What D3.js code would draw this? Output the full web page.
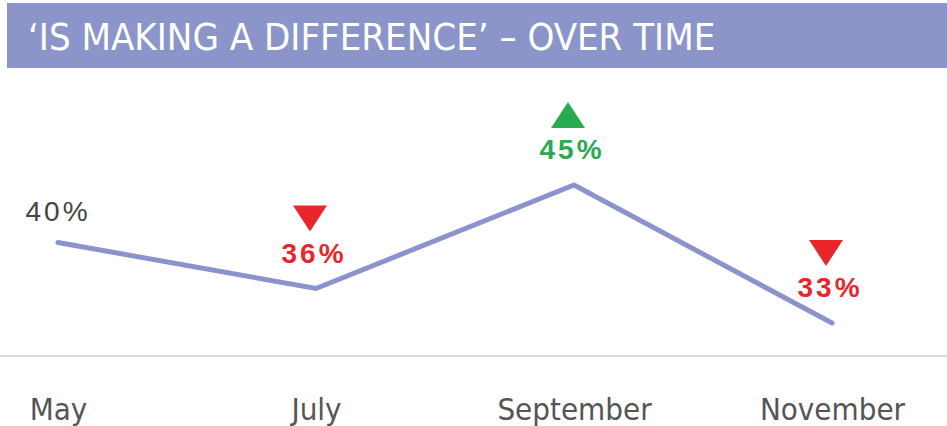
<!DOCTYPE html>
<html>
<head>
<meta charset="utf-8">
<script src="https://cdn.jsdelivr.net/npm/d3@7"></script>
<style>
  body { margin: 0; background: #fff; }
  svg { display: block; }
</style>
</head>
<body>
<script>
const title = "\u2018IS MAKING A DIFFERENCE\u2019 \u2013 OVER TIME";
const months = ["May", "July", "September", "November"];
const values = [40, 36, 45, 33];
const trend = ["none", "down", "up", "down"];

const width = 947, height = 426;
const condensed = "'Liberation Sans Narrow', 'DejaVu Sans Condensed', 'Roboto', sans-serif";
const lineColor = "#8a93cb";
const trendColor = {none: "#444", down: "#e8262b", up: "#2aaa4f"};

const svg = d3.select("body").append("svg")
    .attr("width", width)
    .attr("height", height);

// header
svg.append("rect")
    .attr("x", 7).attr("y", 3)
    .attr("width", width - 7).attr("height", 65)
    .attr("fill", "#8c95c9");

svg.append("text")
    .attr("x", 28).attr("y", 50)
    .attr("fill", "#fff")
    .attr("font-family", condensed)
    .attr("font-size", 38)
    .text(title);

const x = d3.scalePoint()
    .domain(months)
    .range([58, 832]);

const y = d3.scaleLinear()
    .domain([33, 45])
    .range([323, 185]);

// baseline
svg.append("line")
    .attr("x1", 0).attr("x2", width)
    .attr("y1", 356).attr("y2", 356)
    .attr("stroke", "#ddd")
    .attr("stroke-width", 2);

// month axis
const xAxis = g => g
    .attr("transform", "translate(0,356)")
    .call(d3.axisBottom(x).tickSize(0).tickPadding(0))
    .call(g => g.select(".domain").remove())
    .call(g => g.selectAll("text")
        .attr("dy", null)
        .attr("y", 64)
        .attr("fill", "#555")
        .attr("font-family", condensed)
        .attr("font-size", 31));

svg.append("g").call(xAxis);

const data = months.map((m, i) => ({month: m, value: values[i], trend: trend[i]}));

svg.append("path")
    .datum(data)
    .attr("fill", "none")
    .attr("stroke", lineColor)
    .attr("stroke-width", 5)
    .attr("stroke-linecap", "round")
    .attr("d", d3.line().x(d => x(d.month)).y(d => y(d.value)));

const lab = svg.append("g")
  .selectAll("g")
  .data(data)
  .join("g")
    .attr("transform", d => `translate(${x(d.month)},${y(d.value) - (d.trend === "none" ? 22 : 26)})`);

lab.append("text")
    .attr("text-anchor", "middle")
    .attr("fill", d => trendColor[d.trend])
    .attr("font-family", "'Liberation Sans', Arial, sans-serif")
    .attr("font-size", 28)
    .attr("font-weight", d => d.trend === "none" ? "normal" : "bold")
    .attr("letter-spacing", 3)
    .attr("dx", d => d.trend === "none" ? 0 : -2)
    .text(d => d.value + "%");

lab.filter(d => d.trend !== "none")
  .append("path")
    .attr("fill", d => trendColor[d.trend])
    .attr("d", d => d.trend === "down"
      ? "M-17,-57L17,-57L0,-31Z"
      : "M-17,-31L17,-31L0,-57Z")
    .attr("transform", "translate(-6,0)");
</script>
</body>
</html>
